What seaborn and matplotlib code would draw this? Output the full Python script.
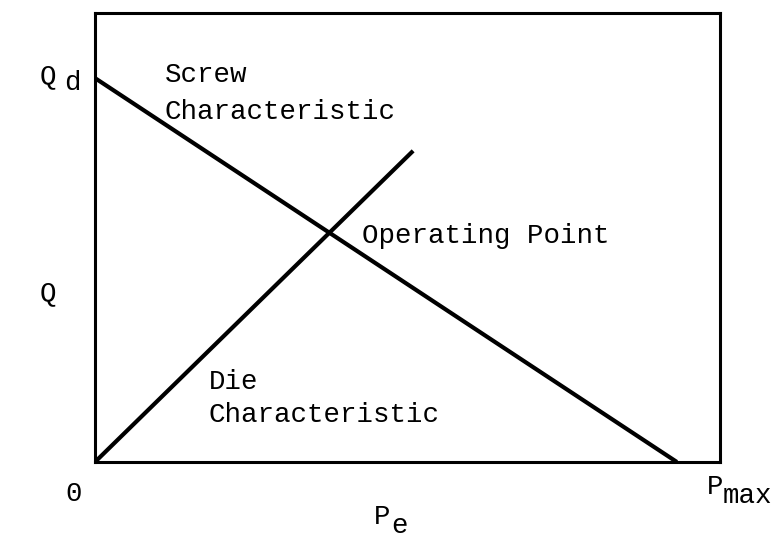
import matplotlib
matplotlib.use("Agg")
import matplotlib.pyplot as plt
import seaborn as sns
import pandas as pd

# Data (axis units: 0..100 on both axes)
screw_p = [0.0, 93.1]
screw_q = [85.5, 0.0]
die_p = [0.0, 50.9]
die_q = [0.0, 69.3]

sns.set_theme(style="white")
plt.rcParams['font.family'] = ['Liberation Mono', 'DejaVu Sans Mono']

fig = plt.figure(figsize=(7.77, 5.39), dpi=100)
ax = fig.add_axes([95/777, 77/539, 625/777, 449/539])

df = pd.concat([
    pd.DataFrame({"P": screw_p, "Q": screw_q, "curve": "Screw"}),
    pd.DataFrame({"P": die_p, "Q": die_q, "curve": "Die"}),
])
sns.lineplot(data=df, x="P", y="Q", units="curve", estimator=None, color="black",
             linewidth=3.0, ax=ax, sort=False, solid_capstyle="butt")

ax.set_xlim(0, 100)
ax.set_ylim(0, 100)
ax.set_xticks([])
ax.set_yticks([])
ax.set_xlabel("")
ax.set_ylabel("")
for s in ax.spines.values():
    s.set_color("black")
    s.set_linewidth(2.2)

fs = 19.8
def px(x, y):
    return ((x - 95) / 625 * 100, (462 - y) / 449 * 100)

def txt(x, y, s, size=fs, ha="left"):
    X, Y = px(x, y)
    ax.text(X, Y, s, fontsize=size, ha=ha, va="baseline", color="black", clip_on=False)

txt(165, 82, "Screw")
txt(165, 119, "Characteristic")
txt(362, 243, "Operating Point")
txt(209, 389, "Die")
txt(209, 422, "Characteristic")
# axis annotations
txt(40, 83, "Q")
txt(64, 90, "d")
txt(40, 300, "Q")
txt(65, 501, "0")
txt(707, 494, "P")
txt(723, 503, "max")
txt(374, 524, "P")
txt(391, 533, "e")

fig.savefig("out.png", dpi=100)
